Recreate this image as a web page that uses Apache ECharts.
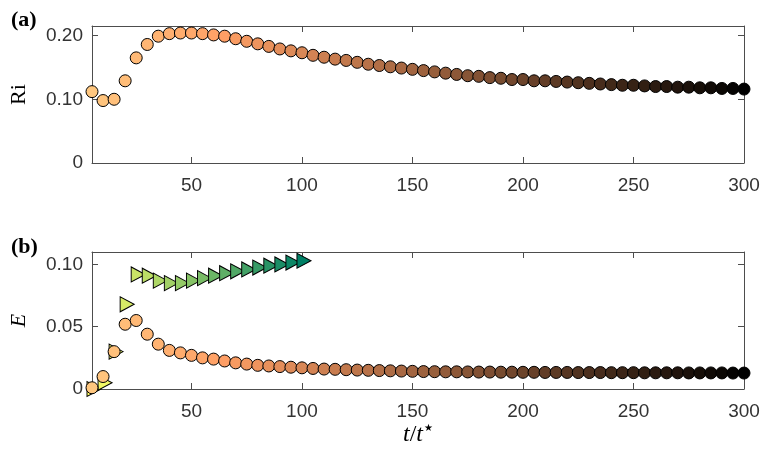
<!DOCTYPE html>
<html>
<head>
<meta charset="utf-8">
<script src="https://cdn.jsdelivr.net/npm/echarts@6/dist/echarts.min.js"></script>
<style>html,body{margin:0;padding:0;background:#fff;}#c{width:763px;height:455px;}</style>
</head>
<body>
<div id="c"></div>
<script>
// ---- data ----
var tValues = [5,10,15,20,25,30,35,40,45,50,55,60,65,70,75,80,85,90,95,100,
  105,110,115,120,125,130,135,140,145,150,155,160,165,170,175,180,185,190,195,200,
  205,210,215,220,225,230,235,240,245,250,255,260,265,270,275,280,285,290,295,300];
var riValues = [0.112,0.098,0.100,0.129,0.165,0.186,0.199,0.203,0.204,0.204,
  0.203,0.201,0.199,0.195,0.191,0.187,0.183,0.179,0.176,0.173,
  0.169,0.166,0.163,0.161,0.158,0.155,0.153,0.151,0.149,0.147,
  0.145,0.143,0.141,0.139,0.137,0.136,0.134,0.133,0.131,0.131,
  0.129,0.129,0.128,0.127,0.126,0.125,0.124,0.123,0.122,0.122,
  0.121,0.120,0.120,0.119,0.119,0.118,0.118,0.117,0.117,0.116];
var eCircleValues = [0.001,0.010,0.030,0.052,0.055,0.044,0.036,0.031,0.029,0.027,
  0.025,0.024,0.0225,0.021,0.020,0.019,0.0185,0.018,0.0175,0.017,
  0.0165,0.016,0.0158,0.0155,0.0152,0.015,0.0148,0.0146,0.0144,0.0142,
  0.0140,0.0139,0.0138,0.0138,0.0137,0.0136,0.0136,0.0135,0.0135,0.0134,
  0.0134,0.0133,0.0133,0.0133,0.0132,0.0132,0.0132,0.0131,0.0131,0.0131,
  0.0130,0.0130,0.0130,0.0130,0.0129,0.0129,0.0129,0.0129,0.0128,0.0128];
var tTriangle = [5,10,15,20,25,30,35,40,45,50,55,60,65,70,75,80,85,90,95,100];
var eTriangleValues = [0.000,0.005,0.030,0.068,0.092,0.091,0.087,0.085,0.085,0.087,
  0.089,0.091,0.093,0.0945,0.096,0.0975,0.099,0.100,0.1015,0.103];
var xTickValues = [50,100,150,200,250,300];
var riTickValues = [0,0.1,0.2];
var riTickLabels = ['0','0.10','0.20'];
var eTickValues = [0,0.05,0.1];
var eTickLabels = ['0','0.05','0.10'];

var copperStops = ['#ffc77f','#ff9f65','#bf774c','#805033','#402819','#000000'];
var summerStops = ['#ffff66','#008066'];

function pairs(xs, ys){ return xs.map(function(x,i){ return [x, ys[i]]; }); }

var axisColor = '#4d4d4d';
var labelFont = {fontFamily:'Liberation Sans, Arial, sans-serif', fontSize:19, color:'#333333'};

function xAx(grid, pos, withLabels, name){
  var a = {
    type:'value', gridIndex:grid, position:pos, min:5, max:300,
    axisLine:{show:true, onZero:false, lineStyle:{color:axisColor, width:1}},
    axisTick:{show:true, inside:true, length:6, customValues:xTickValues, lineStyle:{color:axisColor}},
    axisLabel:{show:withLabels, customValues:xTickValues, margin:13,
      fontFamily:labelFont.fontFamily, fontSize:labelFont.fontSize, color:labelFont.color},
    splitLine:{show:false}
  };
  if (name){
    a.name = '{i|t}{n|/}{i|t}{s|★}';
    a.nameLocation = 'middle';
    a.nameGap = 34;
    a.nameTextStyle = {rich:{
      i:{fontFamily:'Liberation Serif, serif', fontStyle:'italic', fontSize:24, color:'#000'},
      n:{fontFamily:'Liberation Serif, serif', fontSize:24, color:'#000'},
      s:{fontFamily:'DejaVu Sans, sans-serif', fontSize:10, color:'#000', verticalAlign:'top', padding:[0,0,13,1]}
    }};
  }
  return a;
}
function yAx(grid, pos, max, vals, labels, name, italic){
  var a = {
    type:'value', gridIndex:grid, position:pos, min:0, max:max,
    axisLine:{show:true, onZero:false, lineStyle:{color:axisColor, width:1}},
    axisTick:{show:true, inside:true, length:6, customValues:vals, lineStyle:{color:axisColor}},
    axisLabel:{show:!!labels, customValues:vals, margin:9,
      fontFamily:labelFont.fontFamily, fontSize:labelFont.fontSize, color:labelFont.color,
      formatter:function(v){ if(!labels) return ''; for(var i=0;i<vals.length;i++){ if(Math.abs(vals[i]-v)<1e-9) return labels[i]; } return ''; }},
    splitLine:{show:false}
  };
  if (name){
    a.name = name; a.nameLocation = 'middle'; a.nameGap = 62;
    a.nameTextStyle = {fontFamily:'Liberation Serif, serif', fontSize:22, color:'#000', fontStyle: italic?'italic':'normal'};
  }
  return a;
}

var chart = echarts.init(document.getElementById('c'), null, {renderer:'canvas'});
chart.setOption({
  animation:false,
  backgroundColor:'#fff',
  title:[
    {text:'(a)', left:6, top:4, textStyle:{fontFamily:'Liberation Serif, serif', fontWeight:'bold', fontSize:22, color:'#000'}},
    {text:'(b)', left:6, top:231, textStyle:{fontFamily:'Liberation Serif, serif', fontWeight:'bold', fontSize:22, color:'#000'}}
  ],
  grid:[
    {left:90, top:26, width:654, height:137},
    {left:90, top:252, width:654, height:137}
  ],
  xAxis:[ xAx(0,'bottom',true,null), xAx(0,'top',false,null), xAx(1,'bottom',true,true), xAx(1,'top',false,null) ],
  yAxis:[ yAx(0,'left',0.215,riTickValues,riTickLabels,'Ri',false), yAx(0,'right',0.215,riTickValues,null,null),
          yAx(1,'left',0.11,eTickValues,eTickLabels,'E',true), yAx(1,'right',0.11,eTickValues,null,null) ],
  visualMap:[
    {type:'continuous', show:false, seriesIndex:[0,2], dimension:0, min:5, max:300, inRange:{color:copperStops}},
    {type:'continuous', show:false, seriesIndex:[1], dimension:0, min:5, max:100, inRange:{color:summerStops}}
  ],
  series:[
    {type:'scatter', xAxisIndex:0, yAxisIndex:0, data:pairs(tValues, riValues), symbol:'circle', symbolSize:12, clip:false,
     itemStyle:{borderColor:'#000', borderWidth:1, opacity:1}},
    {type:'scatter', xAxisIndex:2, yAxisIndex:2, data:pairs(tTriangle, eTriangleValues), symbol:'triangle', symbolRotate:-90, symbolSize:[15,14], symbolOffset:[2,0], clip:false,
     itemStyle:{borderColor:'#000', borderWidth:1, opacity:1}},
    {type:'scatter', xAxisIndex:2, yAxisIndex:2, data:pairs(tValues, eCircleValues), symbol:'circle', symbolSize:12, clip:false,
     itemStyle:{borderColor:'#000', borderWidth:1, opacity:1}}
  ]
});
</script>
</body>
</html>
